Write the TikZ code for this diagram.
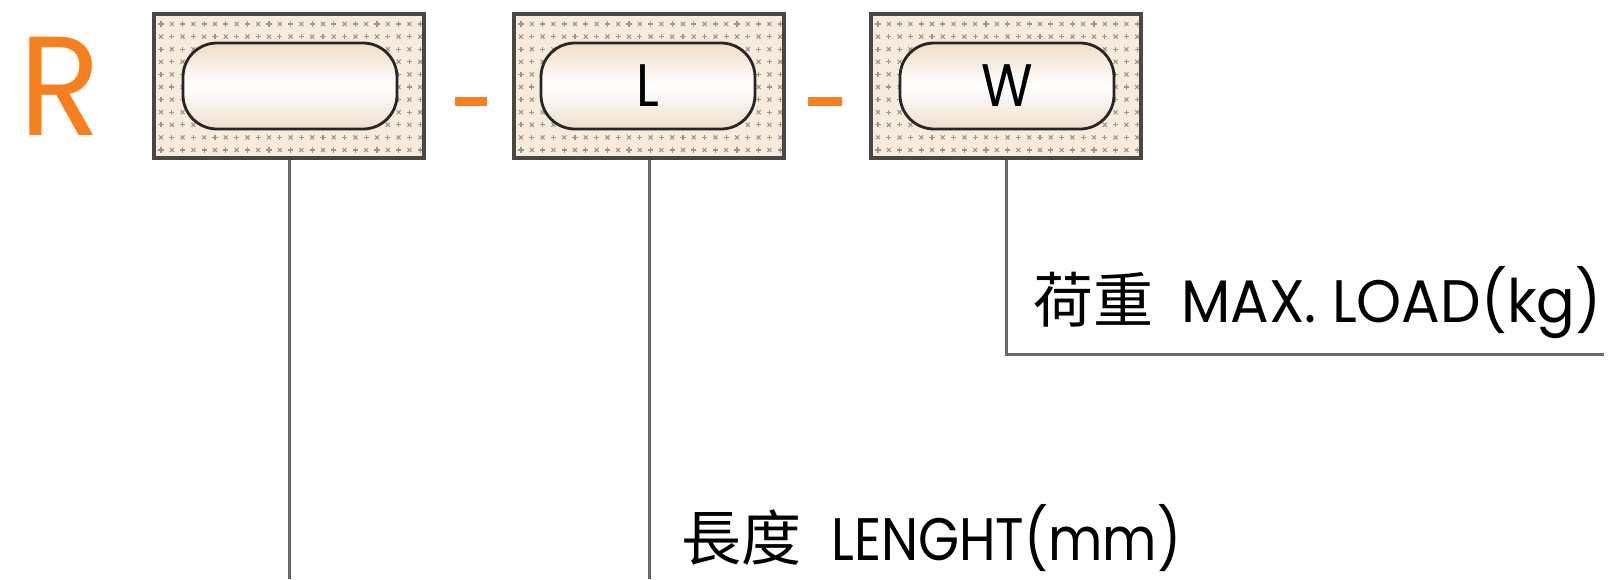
\documentclass[tikz,border=0pt]{standalone}
\usepackage{fontspec}
\setmainfont{Poppins}
\newfontfamily\cjk{Noto Sans CJK TC}
\usepackage{graphicx}
\definecolor{rorange}{RGB}{246,128,30}
\definecolor{boxfill}{RGB}{246,236,222}
\definecolor{markc}{RGB}{160,148,136}
\definecolor{boxborder}{RGB}{75,72,68}
\definecolor{lineg}{RGB}{105,105,105}
\definecolor{pilltop}{RGB}{240,222,200}
\definecolor{pillbot}{RGB}{238,222,204}
\newcommand\lat[2][0.88]{\scalebox{#1}[1]{#2}}
\newcommand\drawboxmarks[2]{%
  \foreach \i in {0,...,24}{%
    \foreach \j in {0,...,10}{%
      \pgfmathtruncatemacro\kk{mod(\i+\j,2)}%
      \ifnum\kk=0
        \draw[markc,line width=1.1pt] ({#1+7+\i*10.8-2.6},{#2+10+\j*12.6}) -- ++(5.2,0) ({#1+7+\i*10.8},{#2+10+\j*12.6-2.6}) -- ++(0,5.2);
      \else
        \draw[markc,line width=1.1pt] ({#1+7+\i*10.8-2},{#2+10+\j*12.6-2}) -- ++(4,4) ({#1+7+\i*10.8-2},{#2+10+\j*12.6+2}) -- ++(4,-4);
      \fi
    }%
  }%
}
\begin{document}
\begin{tikzpicture}[x=1pt,y=-1pt,
  outerbox/.style={draw=boxborder,line width=3.5pt,minimum width=270pt,minimum height=144pt,inner sep=0pt},
  pill/.style={draw=black!85,line width=2.8pt,rounded corners=34pt,minimum width=214pt,minimum height=86pt,inner sep=0pt,
    top color=pilltop,bottom color=pillbot,middle color=white,font=\fontsize{60}{60}\selectfont},
  conn/.style={draw=lineg,line width=3pt},
  lbl/.style={anchor=base west,inner sep=0pt,font=\fontsize{60}{60}\selectfont}]
\useasboundingbox (0,0) rectangle (1610,579);
% boxes
\foreach \cx/\nm in {289/b1,649/b2,1006/b3}{
  \fill[boxfill] ({\cx-135},14) rectangle ({\cx+135},158);
  \begin{scope}
    \clip ({\cx-133},16) rectangle ({\cx+133},156);
    \drawboxmarks{\cx-135}{14}
  \end{scope}
  \node[outerbox] (\nm) at (\cx,86) {};
}
\node[pill] (p1) at (290,86) {\phantom{L}};
\node[pill] (p2) at (648,86) {\lat{L}};
\node[pill] (p3) at (1007,86) {\lat{W}};
% prefix and dashes
\node[anchor=base west,inner sep=0pt,text=rorange,font=\fontsize{141}{141}\selectfont] (r) at (19,135) {\scalebox{0.95}[1]{R}};
\node[fill=rorange,minimum width=32pt,minimum height=9pt,inner sep=0pt] (d1) at (471,101) {};
\node[fill=rorange,minimum width=34pt,minimum height=9pt,inner sep=0pt] (d2) at (825,101) {};
% connectors
\coordinate (e1) at (289,579);
\coordinate (e2) at (649,579);
\coordinate (e3) at (1604,354);
\draw[conn] (b1.south) -- (e1);
\draw[conn] (b2.south) -- (e2);
\draw[conn] (b3.south) |- (e3);
% labels
\node[lbl] (t1) at (1033,322) {{\cjk 荷重}\hspace{28pt}\lat[0.955]{MAX. LOAD(kg)}};
\node[lbl] (t2) at (681,560) {{\cjk 長度}\hspace{30pt}\lat{LENGHT(mm)}};
\end{tikzpicture}
\end{document}
